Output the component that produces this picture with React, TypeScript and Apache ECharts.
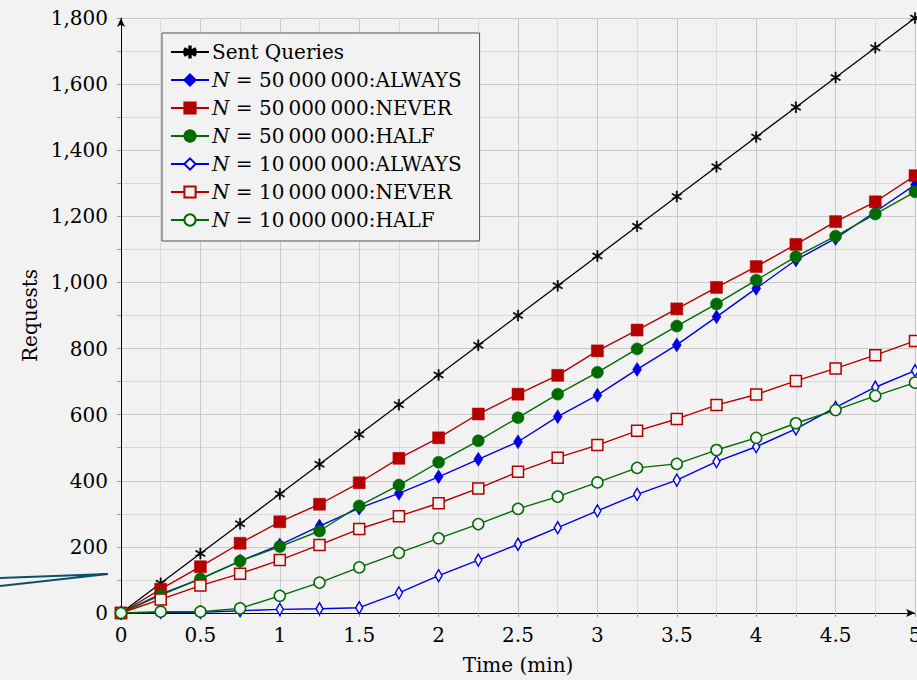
import React, { useEffect, useRef } from "react";
import * as echarts from "echarts";

const times = [0, 0.25, 0.5, 0.75, 1, 1.25, 1.5, 1.75, 2, 2.25, 2.5, 2.75, 3, 3.25, 3.5, 3.75, 4, 4.25, 4.5, 4.75, 5];

const sentQueries = [0, 90, 180, 270, 360, 450, 540, 630, 720, 810, 900, 990, 1080, 1170, 1260, 1350, 1440, 1530, 1620, 1710, 1800];
const n50Always = [0, 57, 103, 157, 206, 263, 317, 362, 412, 465, 518, 594, 659, 737, 811, 896, 982, 1068, 1133, 1214, 1295];
const n50Never = [0, 72, 140, 211, 276, 329, 394, 468, 530, 602, 662, 719, 793, 856, 920, 985, 1048, 1115, 1184, 1244, 1323];
const n50Half = [0, 54, 103, 157, 201, 248, 324, 387, 456, 521, 591, 662, 728, 799, 868, 935, 1007, 1078, 1140, 1207, 1274];
const n10Always = [0, 2, 2, 7, 11, 13, 16, 61, 113, 160, 208, 258, 309, 359, 402, 458, 503, 557, 622, 683, 733];
const n10Never = [0, 41, 83, 119, 160, 206, 254, 293, 332, 377, 427, 470, 508, 551, 587, 629, 661, 702, 740, 780, 823];
const n10Half = [0, 4, 4, 14, 52, 92, 138, 182, 226, 269, 315, 352, 395, 439, 451, 493, 530, 574, 614, 657, 697];

const seriesNames = [
  "Sent Queries",
  "N = 50\u2009000\u2009000:ALWAYS",
  "N = 50\u2009000\u2009000:NEVER",
  "N = 50\u2009000\u2009000:HALF",
  "N = 10\u2009000\u2009000:ALWAYS",
  "N = 10\u2009000\u2009000:NEVER",
  "N = 10\u2009000\u2009000:HALF",
];

const BG = "#f2f2f2";
const BLUE = "#0000e6";
const RED = "#b40000";
const GREEN = "#006b00";
const FONT = "DejaVu Serif";

const ASTERISK =
  "path://M8.8,0L11.2,0L11.2,20L8.8,20Z" +
  "M0.74,6.04L1.94,3.96L19.26,13.96L18.06,16.04Z" +
  "M18.06,3.96L19.26,6.04L1.94,16.04L0.74,13.96Z";

function pairs(vals: number[]) {
  return times.map((t, i) => [t, vals[i]]);
}

export default function App() {
  const ref = useRef<HTMLDivElement>(null);

  useEffect(() => {
    document.body.style.margin = "0";
    const chart = echarts.init(ref.current!, null, { renderer: "svg" });

    const mk = (
      name: string,
      vals: number[],
      color: string,
      symbol: string,
      size: number | number[],
      open: boolean,
      width = 1.4
    ) => ({
      name,
      type: "line",
      data: pairs(vals),
      symbol,
      symbolSize: size,
      showAllSymbol: true,
      lineStyle: { color, width },
      itemStyle: open
        ? { color: BG, borderColor: color, borderWidth: 1.5 }
        : { color, borderColor: color, borderWidth: 0.5 },
      emphasis: { disabled: true },
    });

    const series = [
      mk(seriesNames[0], sentQueries, "#000000", ASTERISK, [10, 11], false, 1.3),
      mk(seriesNames[1], n50Always, BLUE, "diamond", [9, 14], false),
      mk(seriesNames[2], n50Never, RED, "rect", 12, false),
      mk(seriesNames[3], n50Half, GREEN, "circle", 12, false),
      mk(seriesNames[4], n10Always, BLUE, "diamond", [7, 12], true),
      mk(seriesNames[5], n10Never, RED, "rect", 11, true),
      mk(seriesNames[6], n10Half, GREEN, "circle", 11, true),
    ];

    const gridMajor = "#c9c9c9";
    const gridMinor = "#dadada";

    chart.setOption({
      animation: false,
      backgroundColor: BG,
      textStyle: { fontFamily: FONT },
      grid: {
        left: 121,
        right: 2,
        top: 18,
        bottom: 67,
        containLabel: false,
        outerBoundsMode: "none",
      },
      xAxis: {
        type: "value",
        min: 0,
        max: 5,
        interval: 0.5,
        name: "Time (min)",
        nameLocation: "middle",
        nameGap: 42,
        nameTextStyle: { color: "#000", fontSize: 20, fontFamily: FONT },
        axisLine: {
          show: true,
          onZero: false,
          symbol: ["none", "arrow"],
          symbolSize: [6, 9],
          lineStyle: { color: "#000", width: 1 },
        },
        axisTick: { show: true, length: 4, lineStyle: { color: "#999" } },
        minorTick: { show: true, splitNumber: 2, length: 4, lineStyle: { color: "#999" } },
        axisLabel: { color: "#000", fontSize: 20, margin: 12, fontFamily: FONT },
        splitLine: { show: true, lineStyle: { color: gridMajor, width: 1 } },
        minorSplitLine: { show: true, lineStyle: { color: gridMinor, width: 1 } },
      },
      yAxis: {
        type: "value",
        min: 0,
        max: 1800,
        interval: 200,
        name: "Requests",
        nameLocation: "middle",
        nameRotate: 90,
        nameGap: 80,
        nameTextStyle: { color: "#000", fontSize: 20, fontFamily: FONT },
        axisLine: {
          show: true,
          onZero: false,
          symbol: ["none", "arrow"],
          symbolSize: [6, 9],
          lineStyle: { color: "#000", width: 1 },
        },
        axisTick: { show: true, length: 4, lineStyle: { color: "#999" } },
        minorTick: { show: true, splitNumber: 2, length: 4, lineStyle: { color: "#999" } },
        axisLabel: {
          color: "#000",
          fontSize: 20,
          margin: 13,
          fontFamily: FONT,
          formatter: (v: number) => v.toLocaleString("en-US"),
        },
        splitLine: { show: true, lineStyle: { color: gridMajor, width: 1 } },
        minorSplitLine: { show: true, lineStyle: { color: gridMinor, width: 1 } },
      },
      legend: {
        orient: "vertical",
        left: 162,
        top: 33,
        padding: [9, 18, 11, 8],
        itemWidth: 38,
        itemHeight: 14,
        itemGap: 8,
        backgroundColor: BG,
        borderColor: "#505050",
        borderWidth: 1,
        borderRadius: 0,
        selectedMode: false,
        data: seriesNames,
        formatter: (name: string) =>
          name.startsWith("N = ") ? "{i|N} = " + name.slice(4) : name,
        textStyle: {
          color: "#000",
          fontSize: 20,
          fontFamily: FONT,
          padding: [0, 0, 0, -2],
          rich: {
            i: { fontStyle: "italic", fontSize: 20, fontFamily: FONT, color: "#000" },
          },
        },
      },
      graphic: [
        {
          type: "polyline",
          shape: { points: [[0, 578], [108, 574], [0, 586]] },
          style: { stroke: "#0d4f6b", lineWidth: 2, fill: "none" },
          silent: true,
        },
      ],
      series,
    });

    return () => chart.dispose();
  }, []);

  return (
    <div
      ref={ref}
      style={{
        position: "fixed",
        left: 0,
        top: 0,
        width: 917,
        height: 680,
        background: BG,
      }}
    />
  );
}
